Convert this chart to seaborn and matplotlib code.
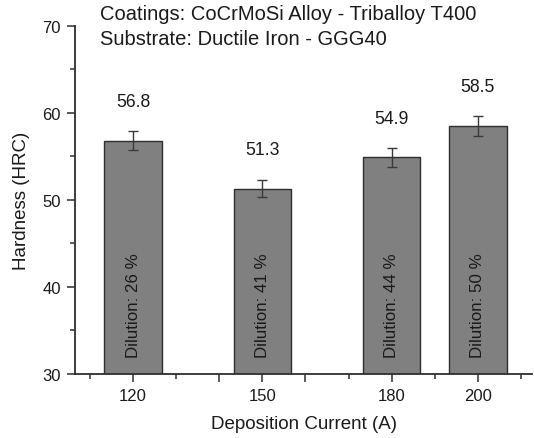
import matplotlib
matplotlib.use('Agg')
import matplotlib.pyplot as plt
import seaborn as sns
import pandas as pd
from matplotlib.ticker import FixedLocator

# Data
currents = [120, 150, 180, 200]
hardness = [56.8, 51.3, 54.9, 58.5]
errors = [1.1, 1.0, 1.1, 1.1]
dilution = [26, 41, 44, 50]
tick_labels = {120: "120", 150: "150", 180: "180", 200: "200"}

df = pd.DataFrame({"current": currents, "hardness": hardness})

sns.set_style("ticks")
plt.rcParams['font.family'] = ['Liberation Sans', 'DejaVu Sans']
text_color = "#1a1a1a"
line_color = "#2e2e2e"

fig = plt.figure(figsize=(5.34, 4.39), dpi=100)
ax = fig.add_axes([0.1404, 0.1458, 0.856, 0.7927])

sns.barplot(data=df, x="current", y="hardness", native_scale=True, width=0.67,
            color="#808080", saturation=1, edgecolor=line_color, linewidth=1.0,
            errorbar=None, ax=ax)
ax.errorbar(currents, hardness, yerr=errors, fmt='none', ecolor="#3a3a3a",
            elinewidth=1.0, capsize=3.5, capthick=1.0)

# value labels above bars and dilution text inside bars
for x, h, d in zip(currents, hardness, dilution):
    ax.text(x, h + 4.5, f"{h:.1f}", ha="center", va="center", fontsize=12.7, color=text_color)
    ax.text(x, 38, f"Dilution: {d} %", ha="center", va="center", rotation=90,
            fontsize=12.2, color=text_color)

ax.set_xlim(106.5, 212.6)
ax.set_ylim(30, 70)

major_x = [120, 140, 150, 160, 180, 200]
ax.xaxis.set_major_locator(FixedLocator(major_x))
ax.set_xticklabels([tick_labels.get(v, "") for v in major_x])
ax.xaxis.set_minor_locator(FixedLocator([110, 130, 170, 190, 210]))
ax.set_yticks([30, 40, 50, 60, 70])
ax.yaxis.set_minor_locator(FixedLocator([35, 45, 55, 65]))

ax.tick_params(which="major", length=6, width=1.1, color=line_color, labelsize=12,
               labelcolor=text_color, pad=4)
ax.tick_params(which="minor", length=3.5, width=1.1, color=line_color)

for side in ["top", "right"]:
    ax.spines[side].set_visible(False)
for side in ["left", "bottom"]:
    ax.spines[side].set_linewidth(1.3)
    ax.spines[side].set_color(line_color)

ax.set_xlabel("Deposition Current (A)", fontsize=13.5, color=text_color, labelpad=9)
ax.set_ylabel("Hardness (HRC)", fontsize=13.5, color=text_color, labelpad=9)

fig.text(0.187, 0.966, "Coatings: CoCrMoSi Alloy - Triballoy T400", ha="left", va="center",
         fontsize=14.5, color=text_color)
fig.text(0.187, 0.909, "Substrate: Ductile Iron - GGG40", ha="left", va="center",
         fontsize=14.5, color=text_color)

fig.savefig("out.png", dpi=100)
